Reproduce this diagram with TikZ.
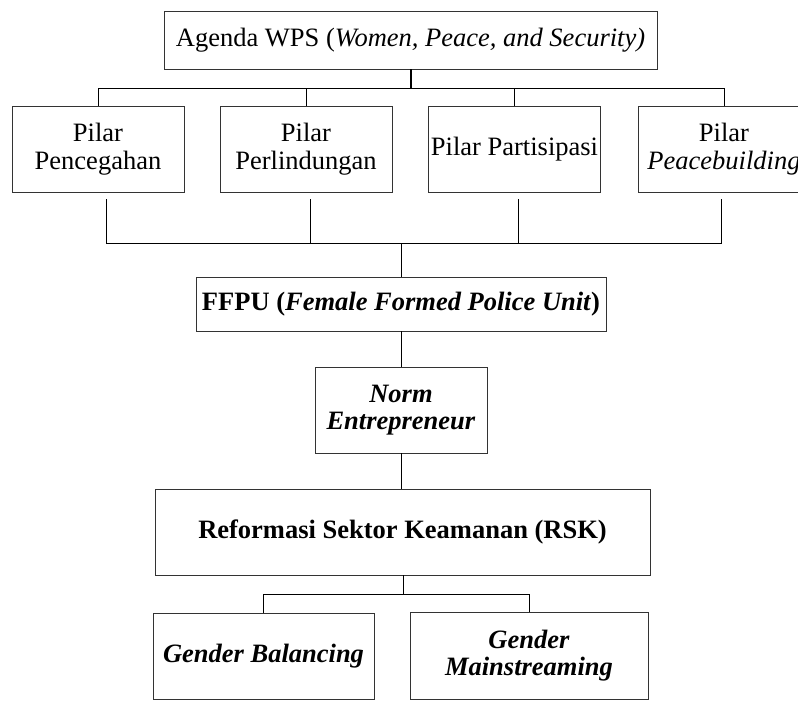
\documentclass[tikz,border=0pt]{standalone}
\usepackage{fontspec}
\setmainfont{Liberation Serif}
\begin{document}
\begin{tikzpicture}[x=1pt,y=-1pt,
  box/.style={draw=black!80, line width=0.9pt, inner sep=0pt, align=center,
              font=\fontsize{26.5}{27.5}\selectfont},
  pilar/.style={box, minimum width=172pt, minimum height=86pt},
  link/.style={draw=black, line width=0.8pt},
  spine/.style={draw=black, line width=1.5pt},
]
\useasboundingbox (0,0) rectangle (798,702);
\fill[white] (0,0) rectangle (798,702);

% top level
\node[box, minimum width=493pt, minimum height=58pt] (wps) at (410.5,40)
  {Agenda WPS (\textit{Women, Peace, and Security)}};

% the four pillars
\node[pilar] (p1) at (98,149)   {Pilar\\Pencegahan};
\node[pilar] (p2) at (306,149)  {Pilar\\Perlindungan};
\node[pilar] (p3) at (514.5,149){Pilar Partisipasi};
\node[pilar] (p4) at (724,149)  {Pilar\\\textit{Peacebuilding}};

% lower chain
\node[box, minimum width=410pt, minimum height=54pt] (ffpu) at (401,304)
  {\textbf{FFPU (\textit{Female Formed Police Unit})}};
\node[box, minimum width=172pt, minimum height=86pt] (norm) at (401,410)
  {\textbf{\textit{Norm}}\\\textbf{\textit{Entrepreneur}}};
\node[box, minimum width=495pt, minimum height=86pt] (rsk) at (402.5,532)
  {\textbf{Reformasi Sektor Keamanan (RSK)}};
\node[box, minimum width=221pt, minimum height=86pt] (gb) at (263.5,656)
  {\textbf{\textit{Gender Balancing}}};
\node[box, minimum width=238pt, minimum height=87pt] (gm) at (529,655.5)
  {\textbf{\textit{Gender}}\\\textbf{\textit{Mainstreaming}}};

% branching rails
\coordinate (topbar) at (411,88);
\coordinate (lowbar) at (401,243);
\coordinate (botbar) at (403,594);
\coordinate (d1) at (106,199);
\coordinate (d2) at (310,199);
\coordinate (d3) at (518,199);
\coordinate (d4) at (721,199);

% agenda to pillars
\draw[spine] (wps.south -| topbar) -- (topbar);
\draw[link] (p1.north) -- (p1.north |- topbar) -- (p4.north |- topbar) -- (p4.north);
\draw[link] (p2.north) -- (p2.north |- topbar);
\draw[link] (p3.north) -- (p3.north |- topbar);

% pillars to FFPU
\draw[link] (d1) -- (d1 |- lowbar) -- (d4 |- lowbar) -- (d4);
\draw[link] (d2) -- (d2 |- lowbar);
\draw[link] (d3) -- (d3 |- lowbar);
\draw[link] (lowbar) -- (ffpu.north);

% vertical chain
\draw[link] (ffpu.south) -- (norm.north);
\draw[link] (norm.south) -- (norm.south |- rsk.north);

% RSK to its two branches
\draw[link] (rsk.south -| botbar) -- (botbar);
\draw[link] (gb.north) -- (gb.north |- botbar) -- (gm.north |- botbar) -- (gm.north);
\end{tikzpicture}
\end{document}
